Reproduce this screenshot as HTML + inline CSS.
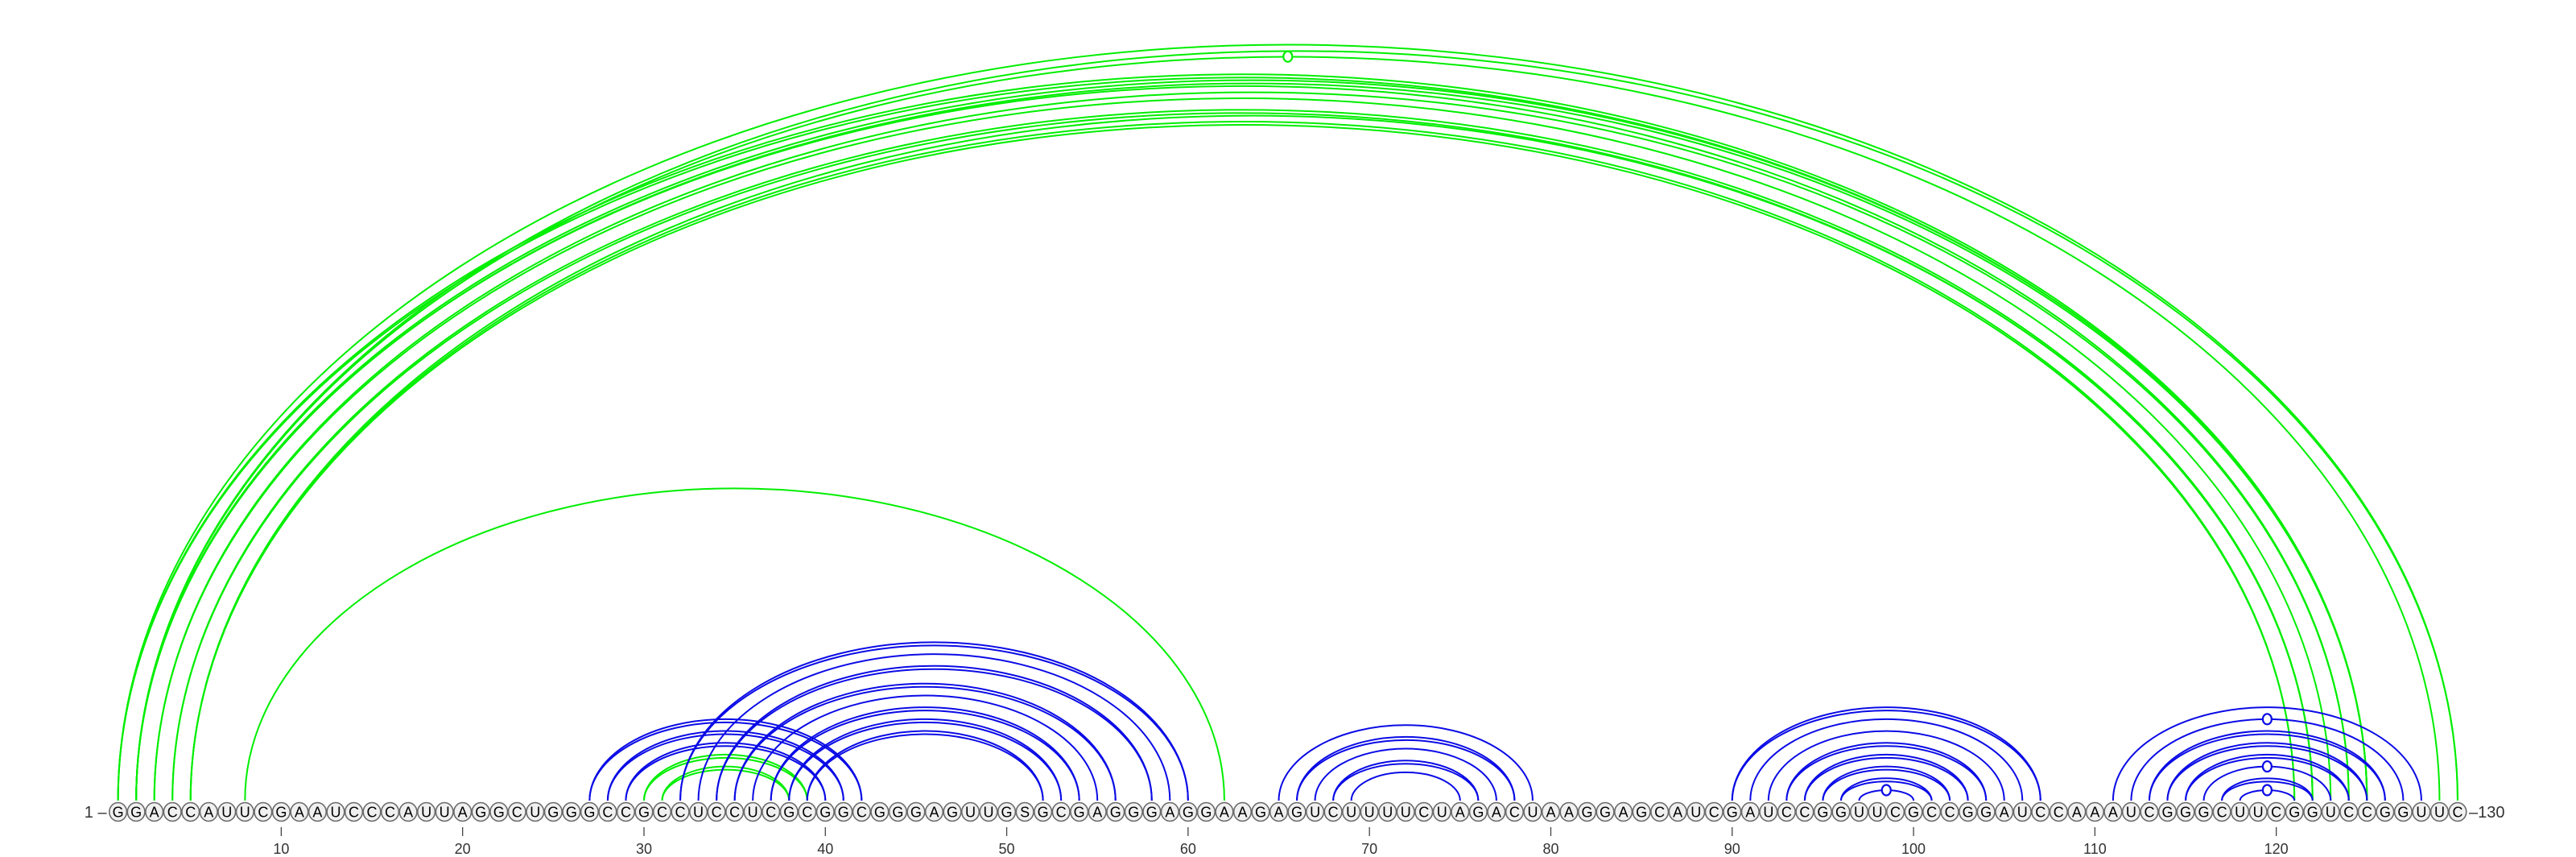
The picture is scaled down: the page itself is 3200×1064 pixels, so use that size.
<!DOCTYPE html>
<html><head><meta charset="utf-8"><title>RNA arc diagram</title>
<style>
html,body{margin:0;padding:0;background:#fff;}
svg{display:block;font-family:"Liberation Sans",sans-serif;}
</style></head>
<body>
<svg id="chart" width="3200" height="1064" viewBox="0 0 3200 1064" xmlns="http://www.w3.org/2000/svg">
  <g id="arcs"></g>
  <g id="nodes"></g>
  <g id="axis"></g>
</svg>
<script>
const sequence = "GGACCAUUCGAAUCCCAUUAGGCUGGGCCGCCUCCUCGCGGCGGGAGUUGSGCGAGGGAGGAAGAGUCUUUUCUAGACUAAGGAGCAUCGAUCCGGUUCGCCGGAUCCAAAUCGGGCUUCGGUCCGGUUC";
const tickPositions = [10,20,30,40,50,60,70,80,90,100,110,120];
const blueStarts = [27,28,29,32,33,34,35,36,37,38,39,65,66,67,68,69,90,91,92,93,94,95,96,97,111,112,113,114,115,116,117,118];
const blueEnds   = [42,41,40,60,59,58,56,55,54,53,52,79,78,77,76,75,107,106,105,104,103,102,101,100,128,127,126,125,124,123,122,121];
const blueDouble = [1,1,1,1,0,1,1,0,1,1,1,0,1,0,1,0,1,0,0,1,1,1,1,0,0,0,1,1,1,0,1,0];
const blueMarker = [0,0,0,0,0,0,0,0,0,0,0,0,0,0,0,0,0,0,0,0,0,0,0,1,0,1,0,0,0,1,0,1];
const greenStarts = [1,2,2,1,2,2,3,3,4,5,5,30,31,8];
const greenEnds   = [130,130,129,125,125,124,124,123,122,122,121,39,38,62];
const greenDouble = [0,0,0,1,1,0,0,0,1,0,1,1,1,0];
const greenMarker = [0,0,1,0,0,0,0,0,0,0,0,0,0,0];

const NS = "http://www.w3.org/2000/svg";
const X0 = 146.6, STEP = 22.53, BASE_Y = 1008, ARC_Y = 994;
function xPos(i){ return X0 + (i-1)*STEP; }
function arcHeight(i,j){ const hs = Math.abs(xPos(j)-xPos(i))/2; return Math.max(6, 0.652*hs - 9); }

const arcsG = document.getElementById('arcs');
function drawArc(i,j,color,dbl,marker,name){
  const x1 = xPos(i), x2 = xPos(j), hs = (x2-x1)/2, h = arcHeight(i,j);
  const offs = [0];
  if(dbl) offs.push(-4);
  offs.forEach(off=>{
    const p = document.createElementNS(NS,'path');
    p.setAttribute('d', `M${x1},${ARC_Y} A${hs},${h+off} 0 0 1 ${x2},${ARC_Y}`);
    p.setAttribute('fill','none');
    p.setAttribute('stroke',color);
    p.setAttribute('stroke-width','2');
    
    
    arcsG.appendChild(p);
  });
  if(marker){
    const m = document.createElementNS(NS,'ellipse');
    m.setAttribute('cx', (x1+x2)/2);
    m.setAttribute('cy', ARC_Y - h);
    m.setAttribute('rx', 5.5); m.setAttribute('ry', 6.5);
    m.setAttribute('fill','#fff'); m.setAttribute('stroke',color); m.setAttribute('stroke-width','2.2');
    
    
    arcsG.appendChild(m);
  }
}
for(let k=0;k<greenStarts.length;k++){
  drawArc(greenStarts[k],greenEnds[k],'#00ee00',greenDouble[k],greenMarker[k],'green-arc-'+greenStarts[k]+'-'+greenEnds[k]);
}
for(let k=0;k<blueStarts.length;k++){
  drawArc(blueStarts[k],blueEnds[k],'#0a0ae6',blueDouble[k],blueMarker[k],'blue-arc-'+blueStarts[k]+'-'+blueEnds[k]);
}

const nodesG = document.getElementById('nodes');
for(let i=1;i<=sequence.length;i++){
  const g = document.createElementNS(NS,'g');
  
  
  const c = document.createElementNS(NS,'ellipse');
  c.setAttribute('cx', xPos(i)); c.setAttribute('cy', BASE_Y);
  c.setAttribute('rx', 10.8); c.setAttribute('ry', 11.5);
  c.setAttribute('fill','#f0f0f0'); c.setAttribute('stroke','#6a6a6a'); c.setAttribute('stroke-width','1.6');
  g.appendChild(c);
  const t = document.createElementNS(NS,'text');
  t.setAttribute('x', xPos(i)); t.setAttribute('y', BASE_Y+6.5);
  t.setAttribute('text-anchor','middle'); t.setAttribute('font-size','18');
  t.setAttribute('fill','#000');
  t.textContent = sequence[i-1];
  g.appendChild(t);
  nodesG.appendChild(g);
}

const axisG = document.getElementById('axis');
tickPositions.forEach(p=>{
  const l = document.createElementNS(NS,'line');
  l.setAttribute('x1', xPos(p)); l.setAttribute('x2', xPos(p));
  l.setAttribute('y1', 1027); l.setAttribute('y2', 1038);
  l.setAttribute('stroke','#444'); l.setAttribute('stroke-width','1.3');
  
  
  axisG.appendChild(l);
  const t = document.createElementNS(NS,'text');
  t.setAttribute('x', xPos(p)); t.setAttribute('y', 1060);
  t.setAttribute('text-anchor','middle'); t.setAttribute('font-size','18'); t.setAttribute('fill','#333');
  t.textContent = p;
  
  
  axisG.appendChild(t);
});
function endLabel(txt, x, anchor, name){
  const t = document.createElementNS(NS,'text');
  t.setAttribute('x', x); t.setAttribute('y', BASE_Y+7);
  t.setAttribute('text-anchor', anchor); t.setAttribute('font-size','20'); t.setAttribute('fill','#333');
  t.textContent = txt;
  
  
  axisG.appendChild(t);
}
endLabel('1 \u2013', xPos(1)-14, 'end', 'start-label');
endLabel('\u2013130', xPos(sequence.length)+14, 'start', 'end-label');
</script>
</body></html>
